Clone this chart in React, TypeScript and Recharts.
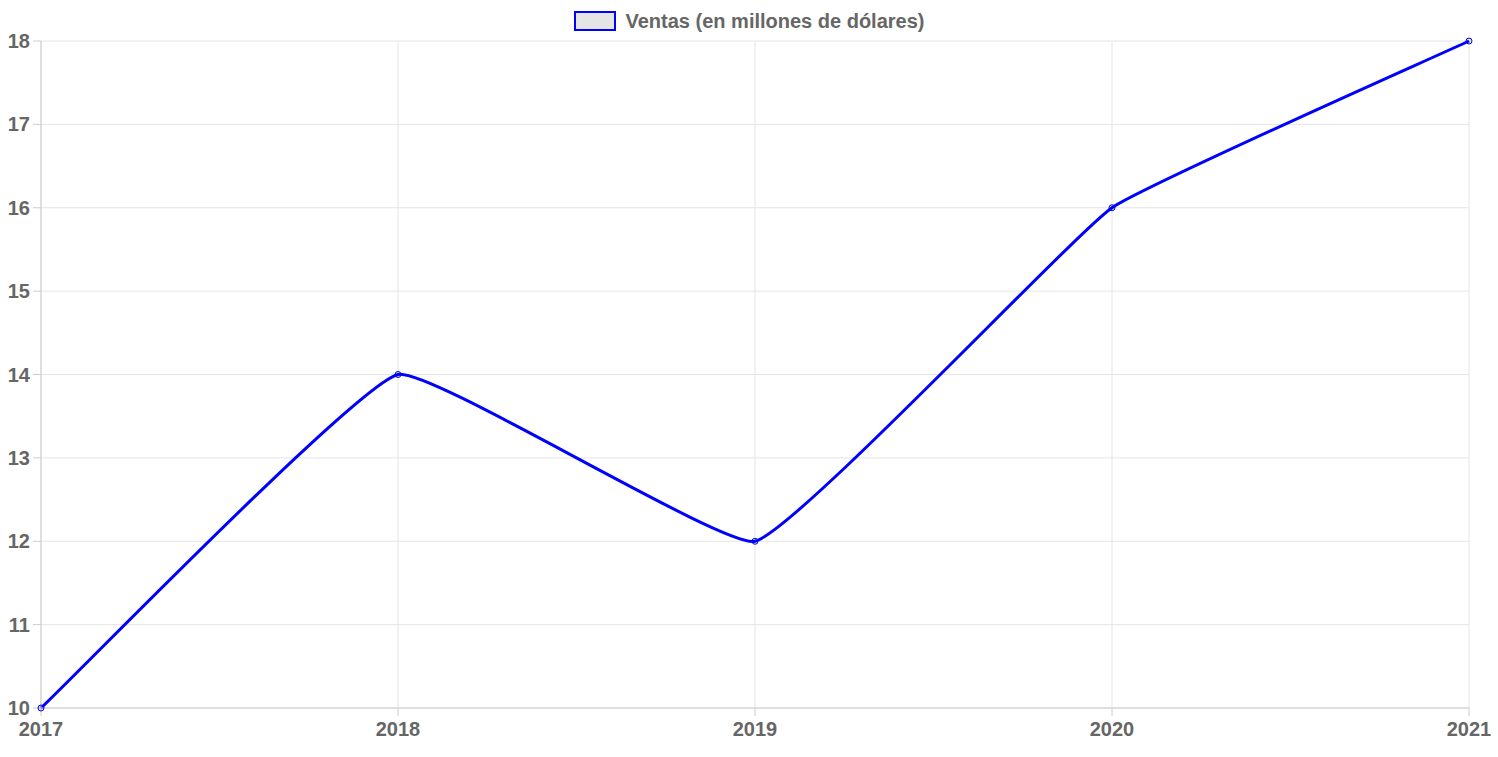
import { LineChart, Line, XAxis, YAxis, CartesianGrid, Legend } from "recharts";

const years = ["2017", "2018", "2019", "2020", "2021"];
const ventas = [10, 14, 12, 16, 18];
const yTicks = [10, 11, 12, 13, 14, 15, 16, 17, 18];
const seriesName = "Ventas (en millones de dólares)";

const data = years.map((year, i) => ({ year, ventas: ventas[i] }));

const fontFamily = "Liberation Sans, Arial, sans-serif";
const tickStyle = { fill: "#666", fontSize: 20, fontWeight: "bold" as const, fontFamily };

// light spline like chart.js with tension 0.1, passed to Line as a curve factory
const tensionCurve = (context: any) => {
    let pts: [number, number][] = [];
    const tension = 0.1;
    return {
        areaStart() {},
        areaEnd() {},
        lineStart() {
            pts = [];
        },
        point(x: number, y: number) {
            pts.push([+x, +y]);
        },
        lineEnd() {
            if (!pts.length) return;
            const cps = pts.map((cur, i) => {
                const prev = pts[i - 1] || cur;
                const next = pts[i + 1] || cur;
                const d01 = Math.hypot(cur[0] - prev[0], cur[1] - prev[1]);
                const d12 = Math.hypot(next[0] - cur[0], next[1] - cur[1]);
                let s01 = d01 / (d01 + d12);
                let s12 = d12 / (d01 + d12);
                if (isNaN(s01)) s01 = 0;
                if (isNaN(s12)) s12 = 0;
                const fa = tension * s01;
                const fb = tension * s12;
                return {
                    prev: [cur[0] - fa * (next[0] - prev[0]), cur[1] - fa * (next[1] - prev[1])],
                    next: [cur[0] + fb * (next[0] - prev[0]), cur[1] + fb * (next[1] - prev[1])],
                };
            });
            context.moveTo(pts[0][0], pts[0][1]);
            for (let i = 1; i < pts.length; i++) {
                const a = cps[i - 1].next;
                const b = cps[i].prev;
                context.bezierCurveTo(a[0], a[1], b[0], b[1], pts[i][0], pts[i][1]);
            }
        },
    };
};

const LegendBox = () => (
    <div style={{ display: "flex", justifyContent: "center", alignItems: "center", height: 22, fontFamily }}>
        <span
            style={{
                display: "inline-block",
                width: 38,
                height: 16,
                background: "rgba(0,0,0,0.1)",
                border: "2px solid #0000ff",
                marginRight: 10,
            }}
        />
        <span style={{ color: "#666", fontSize: 20, fontWeight: "bold" }}>{seriesName}</span>
    </div>
);

const App = () => {
    return (
        <div style={{ position: "absolute", left: 0, top: 0 }}>
            <LineChart width={1498} height={757} data={data} margin={{ top: 19, right: 29, bottom: 0, left: 0 }}>
                <CartesianGrid stroke="#e5e5e5" />
                <Legend
                    verticalAlign="top"
                    content={<LegendBox />}
                    wrapperStyle={{ top: 10, left: 0, width: 1498, height: 22 }}
                />
                <XAxis
                    dataKey="year"
                    height={49}
                    tick={tickStyle}
                    tickSize={8}
                    tickMargin={6}
                    stroke="#ccc"
                    interval={0}
                />
                <YAxis
                    domain={[10, 18]}
                    ticks={yTicks}
                    width={41}
                    tick={tickStyle}
                    tickSize={8}
                    tickMargin={3}
                    stroke="#ccc"
                    interval={0}
                />
                <Line
                    type={tensionCurve as any}
                    dataKey="ventas"
                    name={seriesName}
                    stroke="#0000ff"
                    strokeWidth={3}
                    dot={{ r: 3, stroke: "#0000ff", strokeWidth: 1, fill: "rgba(0,0,0,0.1)" }}
                    isAnimationActive={false}
                />
            </LineChart>
        </div>
    );
};

export default App;
